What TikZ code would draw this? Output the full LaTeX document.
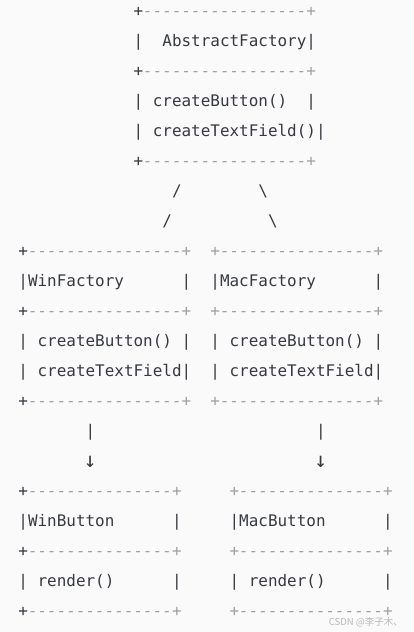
\documentclass[tikz,border=0pt]{standalone}
\usepackage{xcolor}
\usepackage{fontspec}
\setmonofont{DejaVu Sans Mono}[ItalicFont={DejaVu Sans Mono Oblique}]
\newfontfamily\cjkfont{Noto Sans CJK SC}
\usepackage{tikz}
\usetikzlibrary{positioning}

\definecolor{ink}{HTML}{383A42}
\definecolor{cmtgray}{HTML}{A0A1A7}
\definecolor{paper}{HTML}{FAFAFA}
% comment-highlighted part of a line
\newcommand\cmnt[1]{\textcolor{cmtgray}{\itshape #1}}

\begin{document}
\begin{tikzpicture}[
    x=9.6pt, y=-30pt,
    ascii/.style={anchor=base west, inner sep=0pt, text=ink,
                  font=\ttfamily\fontsize{15.95}{30}\selectfont},
    downarrow/.style={ascii, anchor=base, font=\ttfamily\fontsize{21}{30}\selectfont}
]
\useasboundingbox[fill=paper] (0,0) rectangle (43.125,21.067);

\begin{scope}[shift={(1.896,0.55)}]
% abstract factory
\node[ascii] (absTop)  at (12,0) {+\cmnt{-----------------+}};
\node[ascii] (absName) at (12,1) {|~~AbstractFactory|};
\node[ascii] (absMid)  at (12,2) {+\cmnt{-----------------+}};
\node[ascii] (absOpA)  at (12,3) {|~createButton()~~|};
\node[ascii] (absOpB)  at (12,4) {|~createTextField()|};
\node[ascii] (absBot)  at (12,5) {+\cmnt{-----------------+}};

% branches
\node[ascii] (brLa) at (16,6) {/};
\node[ascii] (brRa) at (25,6) {\textbackslash};
\node[ascii] (brLb) at (15,7) {/};
\node[ascii] (brRb) at (26,7) {\textbackslash};

% concrete factories
\node[ascii] (winTop)  at (0,8)  {+\cmnt{----------------+}};
\node[ascii] (macTop)  at (20,8) {\cmnt{+----------------+}};
\node[ascii] (winName) at (0,9)  {|WinFactory~~~~~~|};
\node[ascii] (macName) at (20,9) {|MacFactory~~~~~~|};
\node[ascii] (winMid)  at (0,10) {+\cmnt{----------------+}};
\node[ascii] (macMid)  at (20,10) {\cmnt{+----------------+}};
\node[ascii] (winOpA)  at (0,11) {|~createButton()~|};
\node[ascii] (macOpA)  at (20,11) {|~createButton()~|};
\node[ascii] (winOpB)  at (0,12) {|~createTextField|};
\node[ascii] (macOpB)  at (20,12) {|~createTextField|};
\node[ascii] (winBot)  at (0,13) {+\cmnt{----------------+}};
\node[ascii] (macBot)  at (20,13) {\cmnt{+----------------+}};

% products
\node[ascii] (winStem)  at (7,14)  {|};
\node[ascii] (macStem)  at (31,14) {|};
\node[downarrow] (winArrow) at (7.5,15.05)  {↓};
\node[downarrow] (macArrow) at (31.5,15.05) {↓};

\node[ascii] (wbTop)  at (0,16)  {+\cmnt{---------------+}};
\node[ascii] (mbTop)  at (22,16) {\cmnt{+---------------+}};
\node[ascii] (wbName) at (0,17)  {|WinButton~~~~~~|};
\node[ascii] (mbName) at (22,17) {|MacButton~~~~~~|};
\node[ascii] (wbMid)  at (0,18)  {+\cmnt{---------------+}};
\node[ascii] (mbMid)  at (22,18) {\cmnt{+---------------+}};
\node[ascii] (wbOp)   at (0,19)  {|~render()~~~~~~|};
\node[ascii] (mbOp)   at (22,19) {|~render()~~~~~~|};
\node[ascii] (wbBot)  at (0,20)  {+\cmnt{---------------+}};
\node[ascii] (mbBot)  at (22,20) {\cmnt{+---------------+}};
\end{scope}

\node[anchor=base east, inner sep=0pt, text=black!28,
      font=\cjkfont\fontsize{9.5}{11}\selectfont] (mark) at (41.98,20.86)
      {CSDN @李子木、};
\end{tikzpicture}
\end{document}
